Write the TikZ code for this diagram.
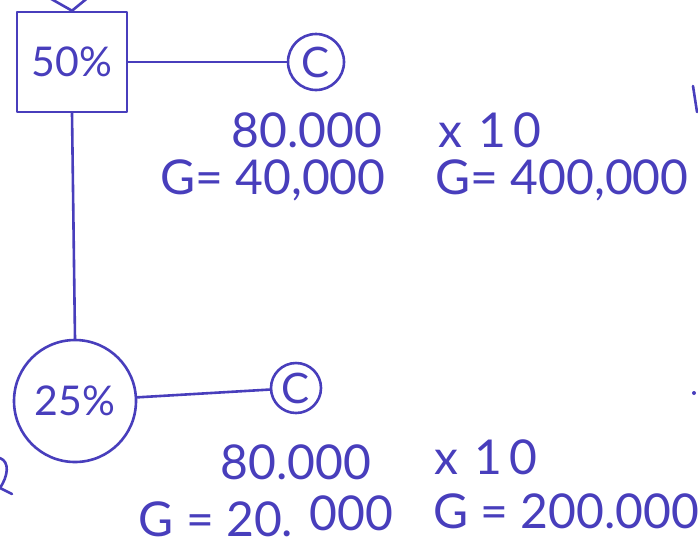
\documentclass[tikz,border=0pt]{standalone}
\usepackage{fontspec}
\setmainfont{Lato}
\definecolor{pen}{RGB}{72,62,188}
\begin{document}
\begin{tikzpicture}[x=1pt,y=-1pt,
  ink/.style={draw=pen,line width=2.6pt,line cap=round,line join=round},
  txt/.style={text=pen,inner sep=0pt,font=\fontsize{48}{52}\selectfont},
  bigtxt/.style={text=pen,inner sep=0pt,font=\fontsize{41}{45}\selectfont},
  cnode/.style={ink,circle,inner sep=0pt,text=pen,font=\fontsize{42}{46}\selectfont}]
\useasboundingbox (0,0) rectangle (698,550);
\clip (0,0) rectangle (698,550);
% main nodes
\node[ink,rectangle,minimum width=110pt,minimum height=100pt,inner sep=0pt,bigtxt] (box50) at (72,62) {50\%};
\node[ink,circle,minimum size=122pt,inner sep=0pt,bigtxt] (circ25) at (75,401) {25\%};
\node[cnode,minimum size=56pt] (c1) at (316,62) {C};
\node[cnode,minimum size=50pt] (c2) at (296,388) {C};
% connectors
\coordinate (v1) at (46,-4);
\coordinate (v2) at (90,-4);
\draw[ink] (v1) -- (box50.north) -- (v2);
\draw[ink] (box50.east) -- (c1);
\draw[ink] (box50.south) -- (circ25.north);
\draw[ink] (circ25) -- (c2);
% texts
\node[txt] (t1) at (307,130) {80.000};
\node[txt] (t2) at (490,130) {x\,\,1\,0};
\node[txt] (t3) at (273,180) {G= 40,000};
\node[txt] (t4) at (562,180) {G= 400,000};
\node[txt] (t5) at (296,462) {80.000};
\node[txt] (t6) at (486,457) {x\,\,1\,0};
\node[txt] (t7) at (266,516) {G = 20. \raisebox{6pt}{000}};
\node[txt] (t8) at (566,511) {G = 200.000};
% edge fragments
\draw[ink] (693,86) -- (697,112);
\fill[pen] (694,393) circle (2pt);
\draw[ink] (0,458) .. controls (10,462) and (8,476) .. (0,488) -- (12,494);
\end{tikzpicture}
\end{document}
